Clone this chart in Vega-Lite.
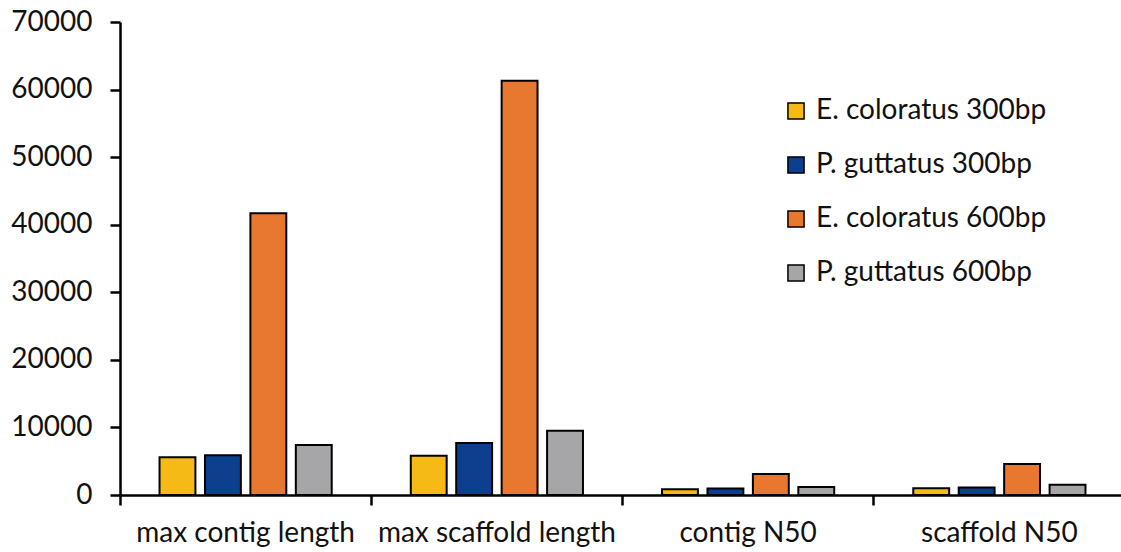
{
  "$schema": "https://vega.github.io/schema/vega-lite/v6.json",
  "autosize": {"type": "none"},
  "padding": {"left": 120, "top": 22, "right": 0, "bottom": 57},
  "width": 1005,
  "height": 473,
  "background": "white",
  "config": {
    "font": "Lato",
    "view": {"stroke": null},
    "axis": {"grid": false, "domainColor": "black", "domainWidth": 2.5, "tickColor": "black", "tickWidth": 2.5, "tickSize": 10, "labelColor": "#111", "labelFontSize": 28, "labelFont": "Lato"}
  },
  "data": {
    "values": [
      {"category": "max contig length", "series": "E. coloratus 300bp", "value": 5600},
      {"category": "max contig length", "series": "P. guttatus 300bp", "value": 5900},
      {"category": "max contig length", "series": "E. coloratus 600bp", "value": 41700},
      {"category": "max contig length", "series": "P. guttatus 600bp", "value": 7400},
      {"category": "max scaffold length", "series": "E. coloratus 300bp", "value": 5800},
      {"category": "max scaffold length", "series": "P. guttatus 300bp", "value": 7700},
      {"category": "max scaffold length", "series": "E. coloratus 600bp", "value": 61300},
      {"category": "max scaffold length", "series": "P. guttatus 600bp", "value": 9500},
      {"category": "contig N50", "series": "E. coloratus 300bp", "value": 850},
      {"category": "contig N50", "series": "P. guttatus 300bp", "value": 950},
      {"category": "contig N50", "series": "E. coloratus 600bp", "value": 3100},
      {"category": "contig N50", "series": "P. guttatus 600bp", "value": 1200},
      {"category": "scaffold N50", "series": "E. coloratus 300bp", "value": 1000},
      {"category": "scaffold N50", "series": "P. guttatus 300bp", "value": 1100},
      {"category": "scaffold N50", "series": "E. coloratus 600bp", "value": 4600},
      {"category": "scaffold N50", "series": "P. guttatus 600bp", "value": 1500}
    ]
  },
  "mark": {"type": "bar", "stroke": "black", "strokeWidth": 2},
  "encoding": {
    "x": {
      "field": "category", "type": "nominal", "sort": null,
      "scale": {"paddingInner": 0, "paddingOuter": 0},
      "axis": {"title": null, "labelAngle": 0, "bandPosition": 0, "labelPadding": 14, "tickSize": 10, "labelLimit": 0, "labelOverlap": false}
    },
    "xOffset": {
      "field": "series", "type": "nominal",
      "sort": ["E. coloratus 300bp", "P. guttatus 300bp", "E. coloratus 600bp", "P. guttatus 600bp"],
      "scale": {"paddingInner": 0.21, "paddingOuter": 0.87}
    },
    "y": {
      "field": "value", "type": "quantitative",
      "scale": {"domain": [0, 70000], "nice": false},
      "axis": {"title": null, "values": [0, 10000, 20000, 30000, 40000, 50000, 60000, 70000], "format": "d", "labelPadding": 18, "tickSize": 10}
    },
    "color": {
      "field": "series", "type": "nominal",
      "sort": ["E. coloratus 300bp", "P. guttatus 300bp", "E. coloratus 600bp", "P. guttatus 600bp"],
      "scale": {
        "domain": ["E. coloratus 300bp", "P. guttatus 300bp", "E. coloratus 600bp", "P. guttatus 600bp"],
        "range": ["#F5BA16", "#0D3F8F", "#E8772F", "#A6A6A8"]
      },
      "legend": {
        "title": null, "orient": "none", "legendX": 662, "legendY": 75,
        "symbolType": "square", "symbolSize": 260, "symbolStrokeColor": "black", "symbolStrokeWidth": 1.5,
        "labelFontSize": 28, "labelColor": "#111", "labelOffset": 6, "rowPadding": 26, "labelLimit": 400
      }
    }
  }
}
